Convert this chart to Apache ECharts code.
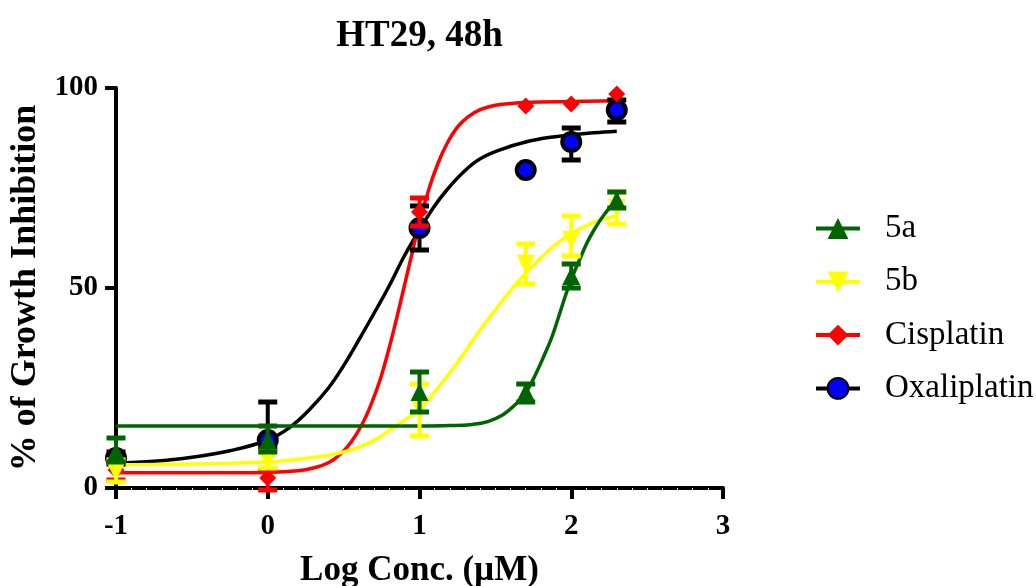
<!DOCTYPE html>
<html>
<head>
<meta charset="utf-8">
<script src="https://cdn.jsdelivr.net/npm/echarts@6/dist/echarts.min.js"></script>
<style>
html,body{margin:0;padding:0;background:#fff;}
#chart{width:1036px;height:586px;}
</style>
</head>
<body>
<div id="chart"></div>
<script>
// ---- data ----
const logConc = [-1, 0, 1, 1.7, 2, 2.3];

const s5aMean = [9, 12, 24, 24, 53, 72];
const s5aLow  = [6.5, 9, 19, 21.5, 50, 70];
const s5aHigh = [12.5, 15.5, 29, 26, 56, 74];

const s5bMean = [4, 7, 20, 56, 62, 70];
const s5bLow  = [1.5, 5, 13, 51, 58, 66];
const s5bHigh = [7, 9, 26, 61, 68, 74];

const cisMean = [4.5, 2.5, 69, 95.5, 96, 98.5];
const cisLow  = [2, -0.5, 65.5, 95.5, 96, 98.5];
const cisHigh = [7, 4.5, 72.5, 95.5, 96, 98.5];

const oxaMean = [7.5, 12, 65, 79.5, 86.5, 94.5];
const oxaLow  = [6, 10, 59.5, 79.5, 82, 91.5];
const oxaHigh = [9, 21.5, 70.5, 79.5, 90, 97];

// fitted curves, points
const fit5aX = [-1, 0, 1, 1.2, 1.35, 1.45, 1.55, 1.63, 1.7, 1.76, 1.82, 1.87, 1.91, 1.97, 2.02, 2.06, 2.1, 2.15, 2.22, 2.3];
const fit5aY = [15.5, 15.5, 15.5, 15.6, 15.9, 16.6, 18.3, 20.8, 23.8, 28, 33, 37.5, 42, 49, 54, 57.5, 61, 64.5, 68.5, 72];

const fit5bX = [-1, -0.5, 0, 0.2, 0.4, 0.52, 0.61, 0.7, 0.78, 0.86, 0.95, 1.03, 1.1, 1.18, 1.29, 1.4, 1.51, 1.62, 1.7, 1.78, 1.85, 1.93, 2.0, 2.08, 2.15, 2.22, 2.3];
const fit5bY = [5.8, 6, 6.5, 7.2, 8.2, 9.2, 10.3, 11.9, 13.8, 15.9, 18.2, 20.9, 24, 27.8, 33.5, 39.5, 45, 50.3, 53.7, 56.8, 59.3, 61.8, 63.6, 65.2, 66.4, 67.3, 68];

const fitCisX = [-1, -0.5, 0, 0.2, 0.3, 0.4, 0.48, 0.55, 0.62, 0.68, 0.74, 0.8, 0.85, 0.9, 0.95, 1.0, 1.06, 1.12, 1.18, 1.25, 1.32, 1.4, 1.5, 1.62, 1.8, 2.0, 2.3];
const fitCisY = [3.8, 3.8, 3.9, 4.3, 5, 6.3, 8.5, 11.5, 15.8, 20.8, 27, 35, 42.5, 50.5, 58.5, 66.5, 74.5, 81, 86, 90.2, 92.8, 94.6, 95.7, 96.2, 96.5, 96.6, 96.8];

const fitOxaX = [-1, -0.75, -0.5, -0.25, 0, 0.15, 0.28, 0.4, 0.5, 0.6, 0.72, 0.8, 0.9, 1.0, 1.09, 1.18, 1.29, 1.4, 1.55, 1.7, 1.85, 2.0, 2.15, 2.3];
const fitOxaY = [6.2, 6.7, 7.7, 9.3, 12, 15.3, 19.8, 25, 30.6, 37, 45, 50.5, 58, 64.5, 70, 74.5, 79, 82.3, 84.8, 86.5, 87.6, 88.3, 88.8, 89.2];

const seriesNames = ['5a', '5b', 'Cisplatin', 'Oxaliplatin'];
const xTicks = [-1, 0, 1, 2, 3];
const yTicks = [0, 50, 100];

// ---- helpers ----
const FONT = '"Liberation Serif", "Times New Roman", serif';
function zip(a, b) { return a.map((v, i) => [v, b[i]]); }
function zip3(a, b, c) { return a.map((v, i) => [v, b[i], c[i]]); }

function curve(xs, ys, color, z) {
  return {
    type: 'line', data: zip(xs, ys), smooth: 0.4,
    symbol: 'none', silent: true, z: z,
    lineStyle: { color: color, width: 3.5 }
  };
}
function errBars(lo, hi, color, z) {
  return {
    type: 'custom', z: z, silent: true,
    data: zip3(logConc, lo, hi),
    renderItem: function (params, api) {
      const x = api.value(0), l = api.value(1), h = api.value(2);
      if (Math.abs(h - l) < 0.1) return null;
      const pL = api.coord([x, l]), pH = api.coord([x, h]);
      const hw = 9.5;
      return {
        type: 'group',
        children: [
          { type: 'line', shape: { x1: pL[0], y1: pL[1], x2: pH[0], y2: pH[1] }, style: { stroke: color, lineWidth: 4 } },
          { type: 'line', shape: { x1: pL[0] - hw, y1: pL[1], x2: pL[0] + hw, y2: pL[1] }, style: { stroke: color, lineWidth: 5 } },
          { type: 'line', shape: { x1: pH[0] - hw, y1: pH[1], x2: pH[0] + hw, y2: pH[1] }, style: { stroke: color, lineWidth: 5 } }
        ]
      };
    }
  };
}
function points(name, mean, symbol, size, fill, lineColor, extra, z) {
  return Object.assign({
    name: name, type: 'line', data: zip(logConc, mean), z: z,
    symbol: symbol, symbolSize: size, showSymbol: true,
    lineStyle: { color: lineColor, width: 4, opacity: 0 },
    itemStyle: { color: fill, opacity: 1 }
  }, extra || {});
}

const chart = echarts.init(document.getElementById('chart'), null, { renderer: 'canvas' });
chart.setOption({
  animation: false,
  backgroundColor: '#fff',
  title: {
    text: 'HT29, 48h', left: 419.5, textAlign: 'center', top: 18, padding: 0,
    textStyle: { fontFamily: FONT, fontSize: 37, fontWeight: 'bold', color: '#000' }
  },
  grid: { left: 116, right: 313, top: 88, bottom: 98, containLabel: false, outerBoundsMode: 'none' },
  legend: {
    data: seriesNames, orient: 'vertical', left: 814, top: 212, padding: 0,
    itemWidth: 44, itemHeight: 26, itemGap: 20.3,
    lineStyle: { opacity: 1, width: 4 },
    textStyle: { fontFamily: FONT, fontSize: 33, color: '#000', padding: [0, 0, 0, 20] }
  },
  xAxis: {
    type: 'value', min: xTicks[0], max: xTicks[xTicks.length - 1], interval: 1,
    name: 'Log Conc. (µM)', nameLocation: 'middle', nameGap: 65,
    nameTextStyle: { fontFamily: FONT, fontSize: 35, fontWeight: 'bold', color: '#000' },
    axisLine: { onZero: false, lineStyle: { color: '#000', width: 4 } },
    axisTick: { length: 11, lineStyle: { color: '#000', width: 4 } },
    minorTick: { show: true, splitNumber: 10, length: 2, lineStyle: { color: '#e2e2e2', width: 1 } },
    axisLabel: { margin: 24, fontFamily: FONT, fontSize: 29, fontWeight: 'bold', color: '#000' },
    splitLine: { show: false }
  },
  yAxis: {
    type: 'value', min: yTicks[0], max: yTicks[yTicks.length - 1], interval: 50,
    name: '% of Growth Inhibition', nameLocation: 'middle', nameGap: 53, nameRotate: 90,
    nameTextStyle: { fontFamily: FONT, fontSize: 36, fontWeight: 'bold', color: '#000' },
    axisLine: { onZero: false, lineStyle: { color: '#000', width: 4 } },
    axisTick: { length: 11, lineStyle: { color: '#000', width: 4 } },
    axisLabel: { margin: 18, fontFamily: FONT, fontSize: 29, fontWeight: 'bold', color: '#000' },
    splitLine: { show: false }
  },
  series: [
    curve(fitOxaX, fitOxaY, '#000000', 2),
    curve(fitCisX, fitCisY, '#ff0000', 3),
    curve(fit5bX, fit5bY, '#ffff00', 4),
    curve(fit5aX, fit5aY, '#006400', 5),
    errBars(oxaLow, oxaHigh, '#000000', 10),
    points('Oxaliplatin', oxaMean, 'circle', 18, '#0000ff', '#000000',
      { itemStyle: { color: '#0000ff', borderColor: '#000000', borderWidth: 4, opacity: 1 } }, 11),
    errBars(cisLow, cisHigh, '#ff0000', 12),
    points('Cisplatin', cisMean, 'diamond', 17, '#ff0000', '#ff0000', null, 13),
    errBars(s5bLow, s5bHigh, '#ffff00', 14),
    points('5b', s5bMean, 'triangle', 18, '#ffff00', '#ffff00', { symbolRotate: 180 }, 15),
    errBars(s5aLow, s5aHigh, '#006400', 16),
    points('5a', s5aMean, 'triangle', 18, '#006400', '#006400', null, 17)
  ]
});
</script>
</body>
</html>
